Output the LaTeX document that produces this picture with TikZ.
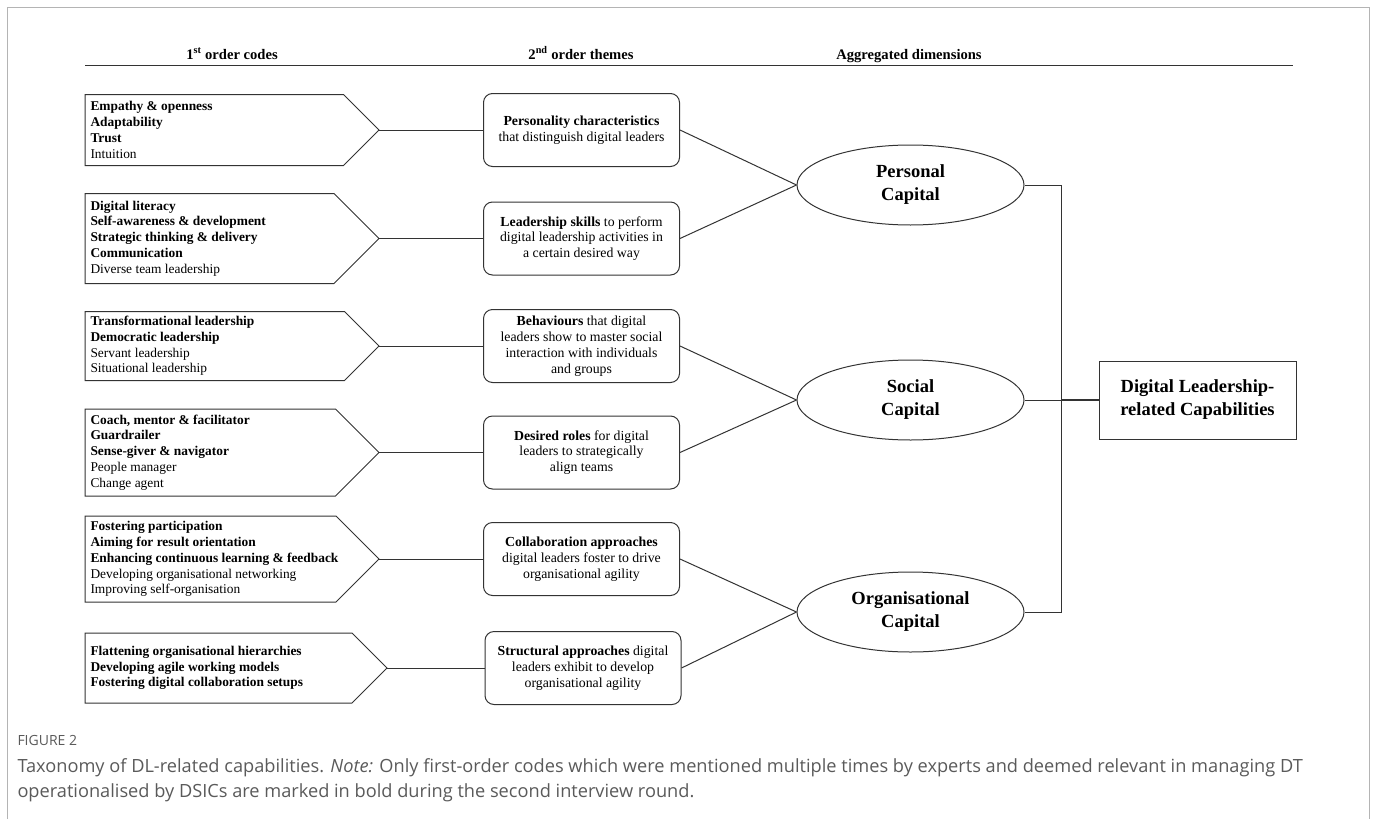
\documentclass[tikz,border=0pt]{standalone}
\usepackage{fontspec}
\setmainfont{Liberation Serif}
\newfontfamily\capfont{Open Sans}
\usetikzlibrary{shapes.geometric}
\definecolor{ink}{HTML}{333333}
\definecolor{framegray}{HTML}{B4B4B4}
\definecolor{capgray}{HTML}{5A5A5A}
\begin{document}
\begin{tikzpicture}[x=1pt,y=-1pt,font=\fontsize{13.4}{15.8}\selectfont,
  line width=1pt,draw=ink,
  code/.style={anchor=west,align=left,inner sep=0pt},
  theme/.style={draw=ink,rounded corners=9pt,align=center,minimum width=196pt,minimum height=73pt,inner sep=1pt,font=\fontsize{13.8}{15.8}\selectfont},
  dimen/.style={draw=ink,ellipse,minimum width=227pt,minimum height=80pt,inner sep=0pt,align=center,font=\fontsize{18.5}{23}\selectfont\bfseries},
  head/.style={font=\fontsize{14.6}{16}\selectfont\bfseries,anchor=base},
  captxt/.style={anchor=base west,inner sep=0pt,text=capgray,font=\capfont\fontsize{18.2}{20}\selectfont}]
\useasboundingbox (0,0) rectangle (1375,819);
% frame
\draw[framegray,line width=1.5pt] (7.5,819) -- (7.5,7.5) -- (1369.5,7.5) -- (1369.5,819);
% header
\node[head] (h1) at (232,59) {1\textsuperscript{st} order codes};
\node[head] (h2) at (581,59) {2\textsuperscript{nd} order themes};
\node[head] (h3) at (909,59) {Aggregated dimensions};
\draw[line width=1.3pt] (85,65.5) -- (1293,65.5);
% 1st order codes
\foreach \n/\y/\h/\t in {c1/130/35.5/379,c2/238.5/45/379,c3/346/34.5/379,c4/452.5/43.5/379,c5/559/43/379,c6/668/35/387}
  \draw (85,\y-\h) -- (\t-\h,\y-\h) -- (\t,\y) coordinate (\n tip) -- (\t-\h,\y+\h) -- (85,\y+\h) -- cycle;
\node[code] (c1) at (90,130) {\textbf{Empathy \& openness}\\\textbf{Adaptability}\\\textbf{Trust}\\Intuition};
\node[code] (c2) at (90,238.5) {\textbf{Digital literacy}\\\textbf{Self-awareness \& development}\\\textbf{Strategic thinking \& delivery}\\\textbf{Communication}\\Diverse team leadership};
\node[code] (c3) at (90,346) {\textbf{Transformational leadership}\\\textbf{Democratic leadership}\\Servant leadership\\Situational leadership};
\node[code] (c4) at (90,452.5) {\textbf{Coach, mentor \& facilitator}\\\textbf{Guardrailer}\\\textbf{Sense-giver \& navigator}\\People manager\\Change agent};
\node[code] (c5) at (90,559) {\textbf{Fostering participation}\\\textbf{Aiming for result orientation}\\\textbf{Enhancing continuous learning \& feedback}\\Developing organisational networking\\Improving self-organisation};
\node[code] (c6) at (90,668) {\textbf{Flattening organisational hierarchies}\\\textbf{Developing agile working models}\\\textbf{Fostering digital collaboration setups}};
% 2nd order themes
\node[theme] (t1) at (581.5,130) {\textbf{Personality characteristics}\\that distinguish digital leaders};
\node[theme] (t2) at (581.5,238.5) {\textbf{Leadership skills} to perform\\digital leadership activities in\\a certain desired way};
\node[theme] (t3) at (581.5,346) {\textbf{Behaviours} that digital\\leaders show to master social\\interaction with individuals\\and groups};
\node[theme] (t4) at (581.5,452.5) {\textbf{Desired roles} for digital\\leaders to strategically\\align teams};
\node[theme] (t5) at (581.5,559) {\textbf{Collaboration approaches}\\digital leaders foster to drive\\organisational agility};
\node[theme] (t6) at (583,668) {\textbf{Structural approaches} digital\\leaders exhibit to develop\\organisational agility};
% aggregated dimensions
\node[dimen] (pers) at (910.5,185) {Personal\\Capital};
\node[dimen] (soc) at (910.5,400) {Social\\Capital};
\node[dimen] (org) at (910.5,612) {Organisational\\Capital};
\node[draw=ink,minimum width=197pt,minimum height=78pt,align=center,font=\fontsize{18.5}{23}\selectfont\bfseries] (dlrc) at (1197.5,400) {Digital Leadership-\\related Capabilities};
\coordinate (bus) at (1061,400);
% connectors
\foreach \i in {1,...,6}{\draw (c\i tip) -- (t\i.west);}
\foreach \a/\b in {t1/pers,t2/pers,t3/soc,t4/soc,t5/org,t6/org}{\draw (\a.east) -- (\b.west);}
\draw (pers.east) -| (bus) |- (org.east);
\draw (soc.east) -- (bus);
\draw[line width=1.8pt] (bus) -- (dlrc.west);
% caption
\node[captxt,font=\capfont\fontsize{14}{16}\selectfont] (fig) at (17,745) {FIGURE 2};
\node[captxt] (cap1) at (17,772) {Taxonomy of DL-related capabilities. \textit{Note:} Only first-order codes which were mentioned multiple times by experts and deemed relevant in managing DT};
\node[captxt] (cap2) at (17,797) {operationalised by DSICs are marked in bold during the second interview round.};
\end{tikzpicture}
\end{document}
